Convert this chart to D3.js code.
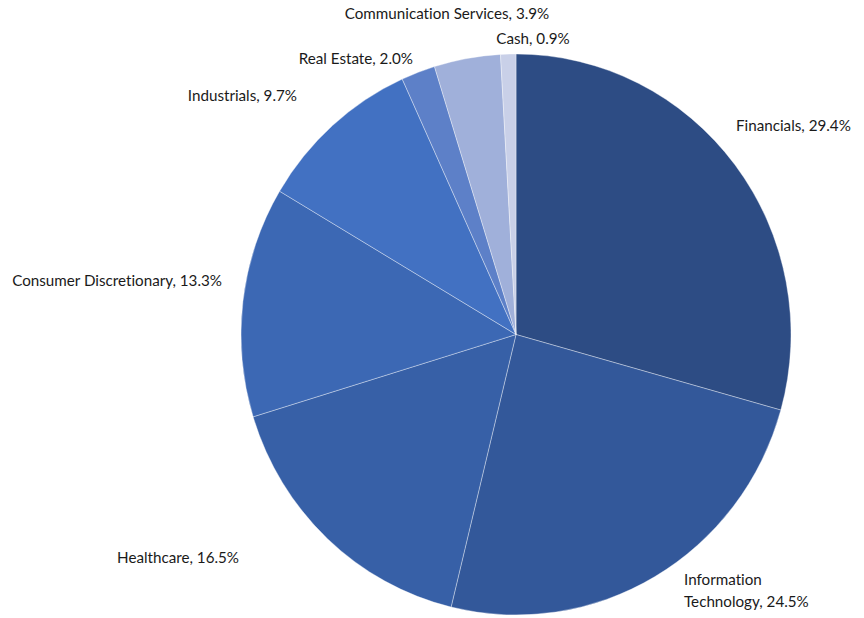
<!DOCTYPE html>
<html><head><meta charset="utf-8">
<script src="https://cdn.jsdelivr.net/npm/d3@7"></script>
<style>body{margin:0;background:#fff}text{font-family:Lato,"Open Sans",sans-serif;font-size:15.2px;fill:#1a1a1a;font-variant-ligatures:none}</style>
</head><body><svg id="c" width="864" height="618"></svg>
<script>
const categories = ["Financials","Information Technology","Healthcare","Consumer Discretionary","Industrials","Real Estate","Communication Services","Cash"];
const values = [29.4,24.5,16.5,13.3,9.7,2.0,3.9,0.9];
const colors = ["#2d4c84","#33589a","#3760a7","#3c68b4","#4271c2","#5d80c8","#a0b0da","#c9d0e8"];
// label layout: [x, y, anchor, lines]
const labelLayout = [
  [736,131,"start",["Financials, 29.4%"]],
  [684,585,"start",["Information","Technology, 24.5%"]],
  [239,563,"end",["Healthcare, 16.5%"]],
  [222,286,"end",["Consumer Discretionary, 13.3%"]],
  [297,101,"end",["Industrials, 9.7%"]],
  [413,64,"end",["Real Estate, 2.0%"]],
  [447,19,"middle",["Communication Services, 3.9%"]],
  [533,44,"middle",["Cash, 0.9%"]]
];
const svg = d3.select("#c");
const cx=516, cy=334.5, R=275, sy=1.02;
const pie = d3.pie().sort(null).value(d=>d)(values);
const arc = d3.arc().innerRadius(0).outerRadius(R);
const g = svg.append("g").attr("transform",`translate(${cx},${cy}) scale(1,${sy})`);
g.selectAll("path").data(pie).join("path").attr("d",arc)
 .attr("fill",(d,i)=>colors[i]).attr("stroke","#ffffff").attr("stroke-width",0.6).attr("stroke-opacity",0.6);
const lab = svg.append("g");
labelLayout.forEach((l,i)=>{
  const t = lab.append("text").attr("x",l[0]).attr("y",l[1]).attr("text-anchor",l[2]);
  l[3].forEach((s,j)=>t.append("tspan").attr("x",l[0]).attr("dy",j?22:0).text(s));
});
</script></body></html>
